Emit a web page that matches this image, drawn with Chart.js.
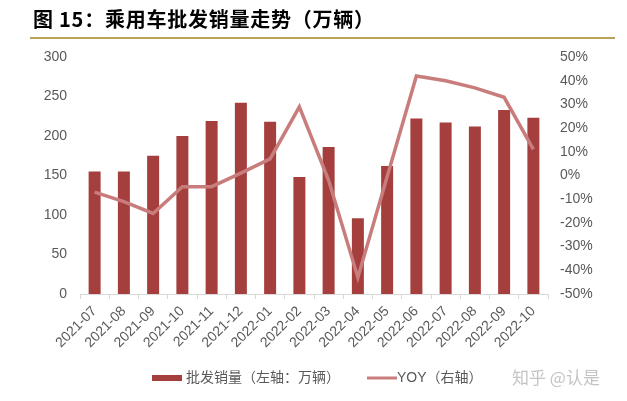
<!DOCTYPE html>
<html><head><meta charset="utf-8">
<script src="https://cdn.jsdelivr.net/npm/chart.js@4.4.0/dist/chart.umd.min.js"></script>
<style>html,body{margin:0;padding:0;background:#fff;}canvas{display:block}</style>
</head><body>
<canvas id="c" width="627" height="401"></canvas>
<script>
const categories = ['2021-07','2021-08','2021-09','2021-10','2021-11','2021-12','2022-01','2022-02','2022-03','2022-04','2022-05','2022-06','2022-07','2022-08','2022-09','2022-10'];
const salesValues = [155,155,175,200,219,242,218,148,186,96,162,222,217,212,233,223];
const yoyValues = [-7,-11,-16,-4.7,-4.7,1,7,29,-2,-43,-0.5,42,40,37,33,11];
const leftTicks = [0,50,100,150,200,250,300];
const rightTicks = [-50,-40,-30,-20,-10,0,10,20,30,40,50];
const titleText = '图 15：乘用车批发销量走势（万辆）';
const seriesNames = ['批发销量（左轴：万辆）','YOY（右轴）'];
const watermarkText = '知乎 @认是';

const BAR_COLOR = '#A53F3E';
const LINE_COLOR = '#C97C7C';
const TEXT_COLOR = '#595959';
const LATIN = "'Liberation Sans', Arial, 'Noto Sans CJK SC', sans-serif";

const decor = {
  id: 'decor',
  afterDraw(chart) {
    const ctx = chart.ctx;
    ctx.save();
    // title
    ctx.fillStyle = '#000';
    ctx.textBaseline = 'middle';
    ctx.textAlign = 'left';
    ctx.font = "bold 20px 'Noto Sans CJK SC', sans-serif";
    if ('letterSpacing' in ctx) ctx.letterSpacing = '0.75px';
    ctx.fillText(titleText, 33, 19);
    if ('letterSpacing' in ctx) ctx.letterSpacing = '0px';
    // gold rule
    ctx.strokeStyle = '#B9A35B';
    ctx.lineWidth = 2;
    ctx.beginPath(); ctx.moveTo(30, 38); ctx.lineTo(615, 38); ctx.stroke();
    // legend
    const ds = chart.data.datasets;
    const ly = 378;
    ctx.font = "14px " + LATIN;
    ctx.fillStyle = ds[0].backgroundColor;
    ctx.fillRect(152, ly - 3, 30, 6);
    ctx.fillStyle = TEXT_COLOR;
    ctx.fillText(ds[0].label, 186, ly);
    ctx.strokeStyle = ds[1].borderColor;
    ctx.lineWidth = 3;
    ctx.beginPath(); ctx.moveTo(367, ly); ctx.lineTo(397, ly); ctx.stroke();
    ctx.fillStyle = TEXT_COLOR;
    ctx.fillText(ds[1].label, 397, ly);
    // watermark
    ctx.fillStyle = '#C4C4C4';
    ctx.font = "17px 'Noto Sans CJK SC', sans-serif";
    ctx.fillText(watermarkText, 512, ly);
    ctx.restore();
  }
};

new Chart(document.getElementById('c'), {
  data: {
    labels: categories,
    datasets: [
      { type: 'bar', label: seriesNames[0], data: salesValues, backgroundColor: BAR_COLOR, yAxisID: 'y', order: 2,
        categoryPercentage: 1, barPercentage: 0.41 },
      { type: 'line', label: seriesNames[1], data: yoyValues, borderColor: LINE_COLOR, backgroundColor: LINE_COLOR,
        borderWidth: 3.5, pointRadius: 0, tension: 0, yAxisID: 'y1', order: 1 }
    ]
  },
  options: {
    responsive: false,
    animation: false,
    devicePixelRatio: 1,
    layout: { padding: { top: 57, left: 0, right: 0, bottom: 0 } },
    plugins: { legend: { display: false }, tooltip: { enabled: false }, title: { display: false } },
    scales: {
      x: {
        offset: true,
        grid: { display: true, drawOnChartArea: false, drawTicks: true, tickLength: 5, color: '#D9D9D9', offset: true },
        border: { display: true, color: '#D9D9D9', width: 1 },
        ticks: { autoSkip: false, maxRotation: 45, minRotation: 45, padding: 4, color: TEXT_COLOR, font: { size: 14, family: LATIN } },
        afterFit(s) { s.height = 107; }
      },
      y: {
        position: 'left', min: 0, max: 300,
        grid: { display: false, drawTicks: false },
        border: { display: false },
        afterBuildTicks(s) { s.ticks = leftTicks.map(v => ({ value: v })); },
        ticks: { padding: 13, color: TEXT_COLOR, font: { size: 14, family: LATIN } },
        afterFit(s) { s.width = 80; }
      },
      y1: {
        position: 'right', min: -50, max: 50,
        grid: { display: false, drawTicks: false },
        border: { display: false },
        afterBuildTicks(s) { s.ticks = rightTicks.map(v => ({ value: v })); },
        ticks: { padding: 12, color: TEXT_COLOR, font: { size: 14, family: LATIN }, callback: v => v + '%' },
        afterFit(s) { s.width = 79; }
      }
    }
  },
  plugins: [decor]
});
</script>
</body></html>
